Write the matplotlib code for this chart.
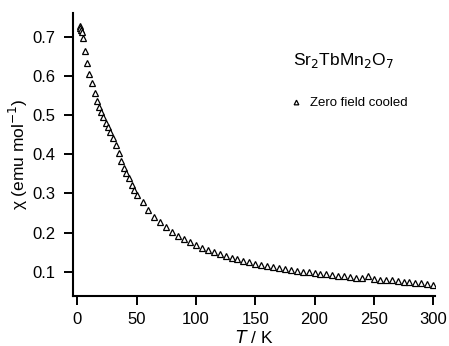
import matplotlib
matplotlib.use("Agg")
from matplotlib import pyplot as plt

plt.rcParams['font.family'] = ['Liberation Sans', 'DejaVu Sans']

# temperature (K) and susceptibility (emu/mol), zero field cooled
T_low = [2, 2.5, 3, 4, 5, 6.5, 8.5, 10, 12.5, 15, 16.5, 18.5, 20, 22, 24,
         26, 28, 30.5, 33, 35, 37, 39.5, 41, 43.5, 46, 48]
chi_low = [0.727, 0.722, 0.718, 0.711, 0.697, 0.664, 0.634, 0.605, 0.581,
           0.557, 0.537, 0.521, 0.508, 0.494, 0.480, 0.469, 0.457, 0.441,
           0.424, 0.404, 0.383, 0.366, 0.351, 0.339, 0.321, 0.309]

T_high = [50, 55, 60, 65, 70, 75, 80, 85, 90, 95, 100, 105, 110, 115, 120,
          125, 130, 135, 140, 145, 150, 155, 160, 165, 170, 175, 180, 185,
          190, 195, 200, 205, 210, 215, 220, 225, 230, 235, 240, 245, 250,
          255, 260, 265, 270, 275, 280, 285, 290, 295, 300]
chi_high = [0.296, 0.277, 0.257, 0.240, 0.226, 0.214, 0.202, 0.192, 0.183,
            0.175, 0.167, 0.161, 0.155, 0.150, 0.145, 0.140, 0.136, 0.132,
            0.128, 0.124, 0.120, 0.117, 0.114, 0.111, 0.109, 0.107, 0.104,
            0.102, 0.100, 0.098, 0.096, 0.094, 0.093, 0.091, 0.090, 0.088,
            0.087, 0.085, 0.084, 0.089, 0.082, 0.080, 0.079, 0.078, 0.076,
            0.075, 0.073, 0.071, 0.070, 0.069, 0.067]

T = T_low + T_high
chi = chi_low + chi_high

xticks = [0, 50, 100, 150, 200, 250, 300]
yticks = [0.1, 0.2, 0.3, 0.4, 0.5, 0.6, 0.7]

fig = plt.figure(figsize=(4.49, 3.46), dpi=100)
ax = fig.add_axes([0.1626, 0.1445, 0.969 - 0.1626, 0.962 - 0.1445])

ax.plot(T, chi, linestyle='none', marker='^', markersize=4.8,
        markerfacecolor='white', markeredgecolor='black', markeredgewidth=0.9,
        label='Zero field cooled')

ax.set_xlim(-3.6, 301.6)
ax.set_ylim(0.038, 0.760)
ax.set_xticks(xticks)
ax.set_yticks(yticks)
ax.set_xticklabels([str(v) for v in xticks])
ax.set_yticklabels(['%.1f' % v for v in yticks])

for s in ['top', 'right']:
    ax.spines[s].set_visible(False)
for s in ['left', 'bottom']:
    ax.spines[s].set_linewidth(1.5)
ax.tick_params(direction='out', length=6.5, width=1.4, labelsize=12)
ax.tick_params(axis='x', pad=5)
ax.tick_params(axis='y', pad=6)

ax.set_xlabel('$\\mathit{T}$ / K', fontsize=12.5, labelpad=1.5)
ax.set_ylabel('χ (emu mol$^{-1}$)', fontsize=12.5, labelpad=2)

ax.text(0.607, 0.816, 'Sr$_2$TbMn$_2$O$_7$', transform=ax.transAxes,
        fontsize=12.5, ha='left', va='baseline')
ax.legend(loc='center left', bbox_to_anchor=(0.598, 0.682), frameon=False,
          fontsize=9.5, markerscale=0.7, handlelength=1.0,
          handletextpad=0.58, borderpad=0, borderaxespad=0)

fig.savefig('out.png', dpi=100)
